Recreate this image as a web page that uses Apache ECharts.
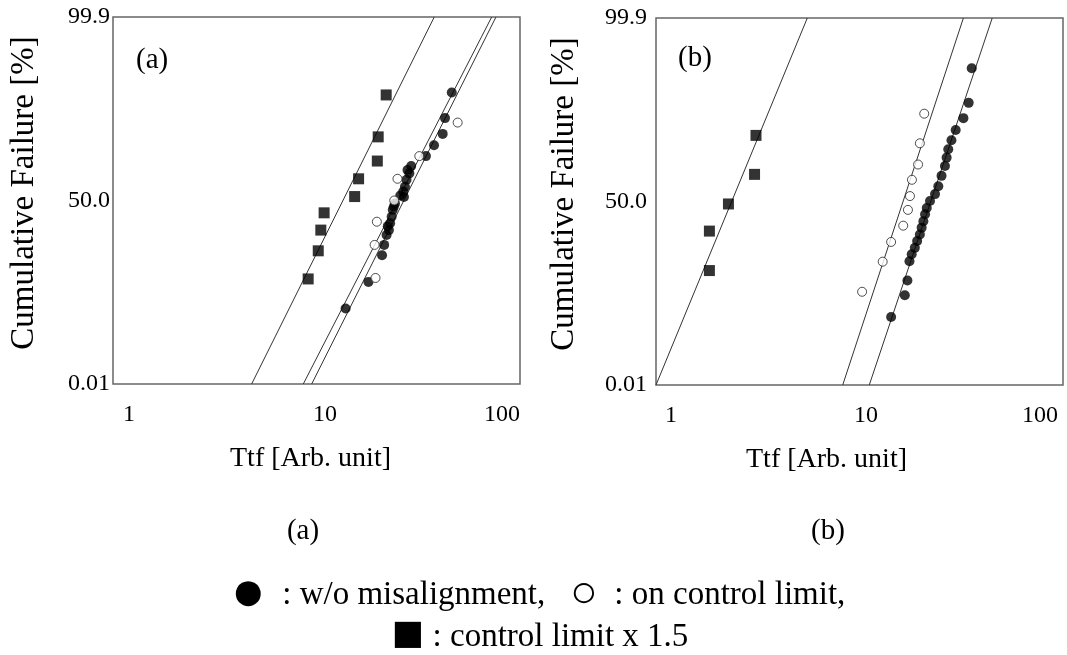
<!DOCTYPE html>
<html>
<head>
<meta charset="utf-8">
<script src="https://cdn.jsdelivr.net/npm/echarts@6/dist/echarts.min.js"></script>
<style>
  html, body { margin: 0; padding: 0; background: #fff; }
  #chart { width: 1067px; height: 655px; }
</style>
</head>
<body>
<div id="chart"></div>
<script>
// x: Ttf (arb. unit), y: normal score of cumulative failure
var yLabels = { '-3.72': '0.01', '0': '50.0', '3.72': '99.9' };
var xLabels = [1, 10, 100];

// panel (a)
var aFilled = [[46.2, 2.19], [42.8, 1.67], [41.7, 1.35], [37.8, 1.12], [34.5, 0.90], [29.2, 0.70],
    [28.0, 0.62], [28.6, 0.55], [27.7, 0.42], [27.2, 0.28], [26.7, 0.18], [25.8, 0.10], [26.9, 0.07],
    [24.3, -0.06], [24.0, -0.12], [23.7, -0.19], [23.4, -0.33], [23.0, -0.46], [22.4, -0.52],
    [22.7, -0.60], [22.1, -0.70], [21.5, -0.90], [21.0, -1.11], [18.0, -1.65], [13.9, -2.19]];
var aOpen = [[49.4, 1.58], [32.0, 0.90], [25.0, 0.44], [24.1, 0.00], [19.8, -0.43], [19.3, -0.90], [19.5, -1.57]];
var aSquare = [[22.0, 2.14], [20.1, 1.29], [19.9, 0.80], [16.1, 0.44], [15.4, 0.08], [10.9, -0.25],
    [10.5, -0.60], [10.2, -1.02], [9.1, -1.59]];
var aFitSquare = [[4.80, -3.72], [37.9, 3.72]];
var aFitOpen = [[8.61, -3.72], [72.6, 3.72]];
var aFitFilled = [[9.47, -3.72], [76.2, 3.72]];

// panel (b)
var bFilled = [[35.6, 2.70], [34.4, 2.00], [32.4, 1.69], [29.7, 1.45], [28.3, 1.24], [27.3, 1.06],
    [26.8, 0.89], [26.3, 0.72], [25.3, 0.52], [24.4, 0.31], [23.5, 0.15], [22.2, 0.01], [21.4, -0.13],
    [21.0, -0.26], [20.6, -0.40], [20.2, -0.53], [19.8, -0.67], [19.2, -0.80], [18.7, -0.94],
    [18.05, -1.07], [17.6, -1.21], [17.2, -1.60], [16.7, -1.90], [14.3, -2.34]];
var bOpen = [[20.8, 1.78], [19.8, 1.18], [19.4, 0.75], [18.1, 0.44], [17.7, 0.11], [17.3, -0.17],
    [16.4, -0.49], [14.3, -0.82], [13.0, -1.22], [10.3, -1.83]];
var bSquare = [[3.10, 1.34], [3.05, 0.55], [2.27, -0.05], [1.83, -0.60], [1.83, -1.40]];
var bFitSquare = [[1.0, -3.72], [5.54, 3.72]];
var bFitOpen = [[8.27, -3.72], [32.4, 3.72]];
var bFitFilled = [[11.17, -3.72], [44.9, 3.72]];

var serif = '"Liberation Serif", "Times New Roman", serif';

function xAxisFor(idx, shift) {
    var lab = { fontFamily: serif, fontSize: 24, color: '#000' };
    return {
        type: 'log', logBase: 10, min: 1, max: 100, gridIndex: idx,
        name: 'Ttf [Arb. unit]', nameLocation: 'middle', nameGap: 61,
        nameTextStyle: { fontFamily: serif, fontSize: 28, color: '#000', padding: shift[3] },
        axisLine: { show: false }, axisTick: { show: false }, splitLine: { show: false },
        axisLabel: {
            margin: 19, fontFamily: serif, fontSize: 24, color: '#000',
            formatter: function (v) {
                if (v === 1) return '{l|1}';
                if (v === 10) return '{m|10}';
                return '{r|100}';
            },
            rich: {
                l: Object.assign({ padding: [0, 0, 0, shift[0]] }, lab),
                m: Object.assign({ padding: [0, 0, 0, shift[1]] }, lab),
                r: Object.assign({ padding: [0, shift[2], 0, 0] }, lab)
            }
        }
    };
}

function yAxisFor(idx, margin, gap) {
    return {
        type: 'value', min: -3.72, max: 3.72, interval: 3.72, gridIndex: idx,
        name: 'Cumulative Failure [%]', nameLocation: 'middle', nameRotate: 90, nameGap: gap,
        nameTextStyle: { fontFamily: serif, fontSize: 33, color: '#000', padding: [0, 0, 0, 15] },
        axisLine: { show: false }, axisTick: { show: false }, splitLine: { show: false },
        axisLabel: {
            margin: margin, fontFamily: serif, fontSize: 24, color: '#000',
            formatter: function (v) { return yLabels[String(Math.round(v * 100) / 100)] || ''; }
        }
    };
}

function fit(data, idx) {
    return {
        type: 'line', data: data, xAxisIndex: idx, yAxisIndex: idx,
        showSymbol: false, silent: true, z: 1,
        lineStyle: { color: '#333', width: 1 }
    };
}
function dots(data, idx, kind) {
    var s = { type: 'scatter', data: data, xAxisIndex: idx, yAxisIndex: idx, z: 3 };
    if (kind === 'filled') {
        s.symbol = 'circle'; s.symbolSize = 10;
        s.itemStyle = { color: '#000' };
    } else if (kind === 'open') {
        s.symbol = 'circle'; s.symbolSize = 9; s.z = 4;
        s.itemStyle = { color: '#fff', borderColor: '#222', borderWidth: 1 };
    } else {
        s.symbol = 'rect'; s.symbolSize = 11;
        s.itemStyle = { color: '#000' };
    }
    return s;
}

// legend text with big symbol glyphs
var legendRich = {
    c: { fontFamily: serif, fontSize: 58, lineHeight: 42, verticalAlign: 'middle', color: '#000' },
    o: { fontFamily: serif, fontSize: 46, lineHeight: 42, verticalAlign: 'middle', color: '#000' },
    s: { fontFamily: serif, fontSize: 54, lineHeight: 42, verticalAlign: 'middle', color: '#000' },
    t: { fontFamily: serif, fontSize: 33, lineHeight: 42, verticalAlign: 'middle', color: '#000' }
};

var chart = echarts.init(document.getElementById('chart'), null, { renderer: 'canvas' });
var option = {
    backgroundColor: '#fff',
    animation: false,
    grid: [
        { left: 113, top: 17, width: 407, height: 367, show: true, borderColor: '#666', borderWidth: 1.5 },
        { left: 656, top: 18, width: 407, height: 367, show: true, borderColor: '#666', borderWidth: 1.5 }
    ],
    xAxis: [xAxisFor(0, [32, 17, 36, [0, 12, 0, 0]]), xAxisFor(1, [30, 13, 46, [0, 66, 0, 0]])],
    yAxis: [yAxisFor(0, 3, 72), yAxisFor(1, 9, 75)],
    series: [
        fit(aFitSquare, 0), fit(aFitOpen, 0), fit(aFitFilled, 0),
        dots(aFilled, 0, 'filled'), dots(aOpen, 0, 'open'), dots(aSquare, 0, 'square'),
        fit(bFitSquare, 1), fit(bFitOpen, 1), fit(bFitFilled, 1),
        dots(bFilled, 1, 'filled'), dots(bOpen, 1, 'open'), dots(bSquare, 1, 'square')
    ],
    graphic: [
        { type: 'text', left: 136, top: 46, style: { text: '(a)', font: '29px ' + serif, fill: '#000' } },
        { type: 'text', left: 678, top: 44, style: { text: '(b)', font: '29px ' + serif, fill: '#000' } },
        { type: 'text', x: 303, y: 531, style: { text: '(a)', font: '29px ' + serif, fill: '#000', align: 'center', verticalAlign: 'middle' } },
        { type: 'text', x: 828, y: 531, style: { text: '(b)', font: '29px ' + serif, fill: '#000', align: 'center', verticalAlign: 'middle' } },
        { type: 'text', x: 538, y: 595, style: {
            text: '{c|\u25CF}{t|  : w/o misalignment,   }{o|\u25CB}{t|  : on control limit,}',
            rich: legendRich, align: 'center', verticalAlign: 'middle' } },
        { type: 'text', x: 540, y: 637, style: {
            text: '{s|\u25A0}{t| : control limit x 1.5}',
            rich: legendRich, align: 'center', verticalAlign: 'middle' } }
    ]
};
chart.setOption(option);
</script>
</body>
</html>
